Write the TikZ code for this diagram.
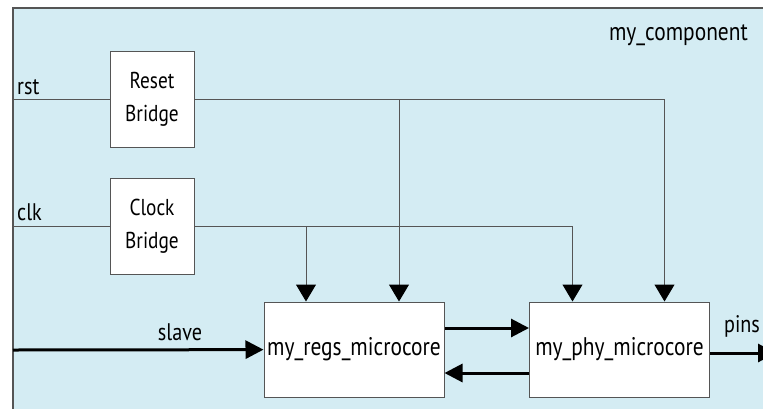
\documentclass[tikz,border=0pt]{standalone}
\usepackage{fontspec}
\setmainfont[FakeStretch=0.84]{PT Sans}
\usetikzlibrary{positioning, arrows.meta}
\definecolor{compfill}{HTML}{D4ECF3}
\definecolor{edge}{HTML}{555555}

\begin{document}
\begin{tikzpicture}[
    x=1pt, y=-1pt,
    bridge/.style={draw=edge, fill=white, line width=1pt, minimum width=84pt, minimum height=96pt, align=center, font=\fontsize{23}{33}\selectfont},
    core/.style={draw=edge, fill=white, line width=1pt, minimum width=180pt, minimum height=95pt, inner sep=1pt, font=\fontsize{25.5}{28}\selectfont},
    lbl/.style={font=\fontsize{24}{28}\selectfont, inner sep=0pt},
    wire/.style={draw=edge, line width=1pt},
    ctl/.style={wire, -{Triangle[length=17pt, width=20pt, black]}},
    bus/.style={draw=black, line width=3pt, -{Triangle[length=18pt, width=18pt]}},
]
\useasboundingbox (0,0) rectangle (763,408);

% Component boundary
\filldraw[fill=compfill, draw=edge, line width=1.2pt] (13,8) rectangle (780,420);
\node[lbl, anchor=base east, font=\fontsize{25.5}{28}\selectfont] (comp) at (748,40) {my\_component};

% Bridges
\node[bridge] (rstb) at (152,99) {Reset\\Bridge};
\node[bridge] (clkb) at (152,226) {Clock\\Bridge};

% Microcores
\node[core] (regs) at (354,349.5) {my\_regs\_microcore};
\node[core] (phy) at (619.5,349.5) {my\_phy\_microcore};

% Ports
\coordinate (rstin) at (13,99);
\coordinate (clkin) at (13,226);
\coordinate (slvin) at (13,350);
\coordinate (pinsout) at (776,353);
\node[lbl, anchor=base west] (rstlbl) at (17,94) {rst};
\node[lbl, anchor=base west] (clklbl) at (17,220) {clk};
\node[lbl, anchor=base] (slvlbl) at (180,340) {slave};
\node[lbl, anchor=base] (pinslbl) at (742,332) {pins};

% Taps on the microcores
\coordinate (clkr) at ([xshift=-48pt]regs.north);
\coordinate (rstr) at ([xshift=45pt]regs.north);
\coordinate (clkp) at ([xshift=-47pt]phy.north);
\coordinate (rstp) at ([xshift=45pt]phy.north);

% Reset distribution
\draw[wire] (rstin) -- (rstb);
\draw[ctl] (rstb) -| (rstp);
\draw[ctl] (rstr |- rstb) -- (rstr);

% Clock distribution
\draw[wire] (clkin) -- (clkb);
\draw[ctl] (clkb) -| (clkp);
\draw[ctl] (clkr |- clkb) -- (clkr);

% Data paths
\draw[bus] (slvin) -- (regs);
\draw[bus] ([yshift=21.5pt]regs.east) -- ([yshift=21.5pt]phy.west);
\draw[bus] ([yshift=-23.5pt]phy.west) -- ([yshift=-23.5pt]regs.east);
\draw[bus] (phy.east |- pinsout) -- (pinsout);

\end{tikzpicture}
\end{document}
